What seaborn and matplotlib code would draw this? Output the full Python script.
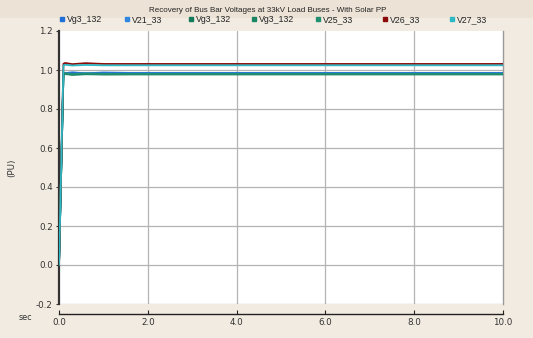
import matplotlib
matplotlib.use("Agg")
import matplotlib.pyplot as plt
import seaborn as sns
import pandas as pd
from matplotlib.lines import Line2D
from matplotlib.patches import Rectangle

sns.set_theme(style="white")
plt.rcParams['font.family'] = ['DejaVu Sans']

time = [0.0, 0.10, 0.14, 0.30, 0.60, 1.00, 1.60, 2.00, 5.00, 10.00]
vg3_132_a = [0.0, 0.986, 0.984, 0.988, 0.983, 0.987, 0.985, 0.985, 0.985, 0.985]
v21_33 = [0.0, 0.982, 0.985, 0.980, 0.984, 0.981, 0.982, 0.982, 0.982, 0.982]
vg3_132_b = [0.0, 0.978, 0.981, 0.977, 0.980, 0.978, 0.979, 0.979, 0.979, 0.979]
vg3_132_c = [0.0, 0.976, 0.979, 0.975, 0.978, 0.977, 0.977, 0.977, 0.977, 0.977]
v25_33 = [0.0, 0.980, 0.983, 0.979, 0.982, 0.980, 0.980, 0.980, 0.980, 0.980]
v26_33 = [0.0, 1.032, 1.036, 1.030, 1.035, 1.031, 1.031, 1.031, 1.031, 1.031]
v27_33 = [0.0, 1.024, 1.027, 1.023, 1.026, 1.024, 1.024, 1.024, 1.024, 1.024]

labels = ["Vg3_132", "V21_33", "Vg3_132", "Vg3_132", "V25_33", "V26_33", "V27_33"]
series = [vg3_132_a, v21_33, vg3_132_b, vg3_132_c, v25_33, v26_33, v27_33]
colors = ["#1f6fd6", "#2f86de", "#137a5c", "#1b8566", "#229070", "#8b0a0a", "#2cb8c4"]

rows = []
for i, (lab, vals) in enumerate(zip(labels, series)):
    for t, v in zip(time, vals):
        rows.append({"time": t, "value": v, "sid": f"{i}_{lab}"})
df = pd.DataFrame(rows)
ids = [f"{i}_{lab}" for i, lab in enumerate(labels)]

W, H = 533, 338
fig = plt.figure(figsize=(5.33, 3.38), dpi=100)
fig.patch.set_facecolor("#f2ebe1")
fig.add_artist(Rectangle((0, 1 - 18/H), 1, 18/H, transform=fig.transFigure,
                         facecolor="#ece3d6", edgecolor="none", zorder=0))
ax = fig.add_axes([59/W, 1 - 304/H, (503 - 59)/W, (304 - 31)/H])
ax.set_facecolor("white")

sns.lineplot(data=df, x="time", y="value", hue="sid", hue_order=ids,
             palette=dict(zip(ids, colors)), linewidth=1.3, legend=False,
             ax=ax, estimator=None, sort=False, zorder=3)

ax.spines['top'].set_visible(False)
ax.spines['right'].set_color("#9a9a9a")
ax.spines['right'].set_linewidth(1.0)
ax.spines['left'].set_color("#333333")
ax.spines['left'].set_linewidth(1.6)
ax.spines['left'].set_zorder(2)
ax.spines['bottom'].set_position(('outward', 7))
ax.spines['bottom'].set_color("#222222")
ax.spines['bottom'].set_linewidth(1.0)

ax.set_xlim(0, 10)
ax.set_ylim(-0.2, 1.2)
xt = [0, 2, 4, 6, 8, 10]
ax.set_xticks(xt)
ax.set_xticklabels([f"{v:.1f}" for v in xt], fontsize=6.3, color="#333333")
yt = [-0.2, 0.0, 0.2, 0.4, 0.6, 0.8, 1.0, 1.2]
ax.set_yticks(yt)
ax.set_yticklabels([f"{v:.1f}" for v in yt], fontsize=6.3, color="#333333")
ax.spines['bottom'].set_bounds(0, 10)
for y in yt[:-1]:
    ax.axhline(y, color="#b4b4b4", lw=0.9, zorder=0.5)
for x in [2, 4, 6, 8]:
    ax.axvline(x, color="#b4b4b4", lw=0.9, zorder=0.5)

ax.tick_params(axis='x', direction='in', length=3, width=0.8, color="#222222", pad=3, bottom=True)
ax.tick_params(axis='y', direction='out', length=2.5, width=0.8, color="#333333", pad=2, left=True)
ax.set_xlabel("")
ax.set_ylabel("(PU)", fontsize=6.3, color="#333333", labelpad=14)

fig.text(25/W, 1 - 317/H, "sec", fontsize=5.8, color="#333333", ha="center", va="center")
fig.text(268/W, 1 - 10/H, "Recovery of Bus Bar Voltages at 33kV Load Buses - With Solar PP",
         fontsize=5.8, color="#222222", ha="center", va="center", family="Liberation Sans")

marker_x = [62, 127, 191, 254, 318, 385, 452]
for mx, lab, c in zip(marker_x, labels, colors):
    fig.add_artist(Line2D([mx/W], [1 - 19/H], marker='s', color='none', markerfacecolor=c,
                          markeredgecolor=c, markersize=3.2, transform=fig.transFigure))
    fig.text((mx + 5)/W, 1 - 20/H, lab, fontsize=6.3, color="#222222", ha="left", va="center",
             family="Liberation Sans")

fig.savefig("out.png", dpi=100, facecolor=fig.get_facecolor())
